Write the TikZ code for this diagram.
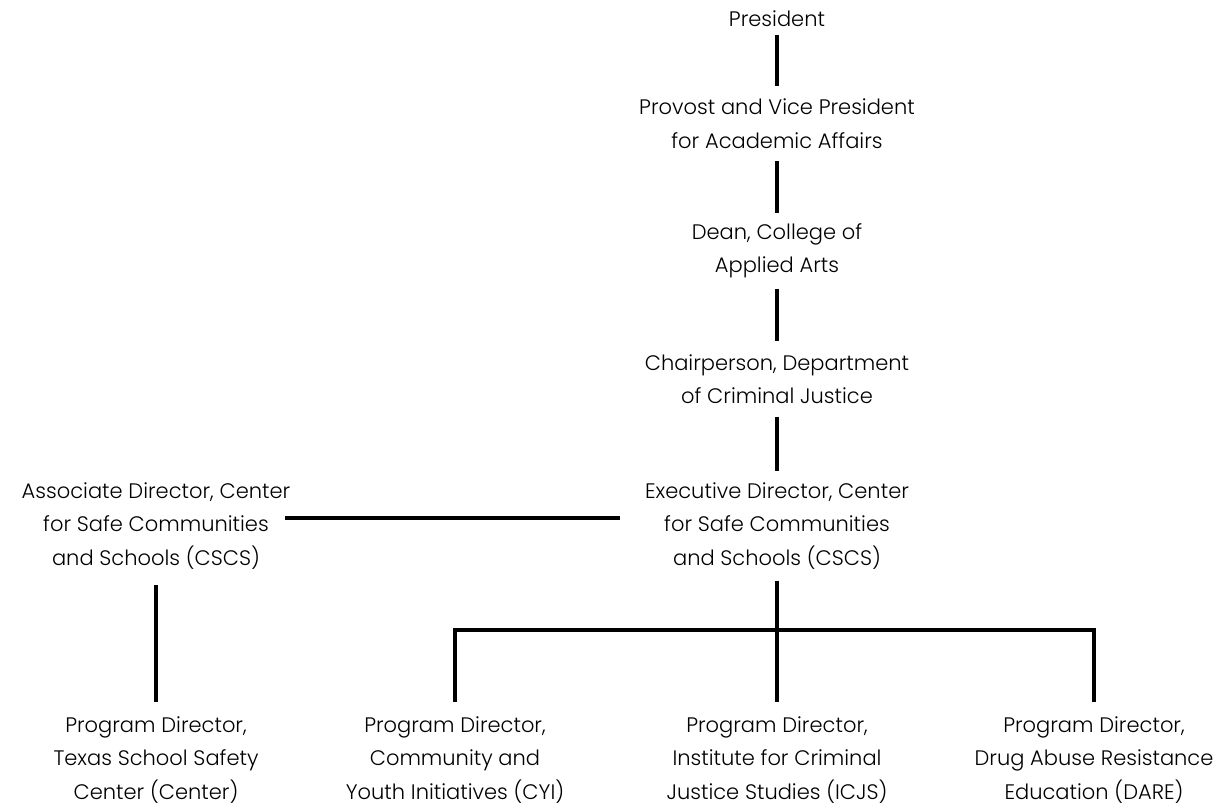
\documentclass[tikz,border=0pt]{standalone}
\usepackage{fontspec}
\setmainfont{Poppins}[UprightFont=* Light]
\begin{document}
\begin{tikzpicture}[x=1pt,y=-1pt,
  every node/.style={font=\fontsize{21}{33.5}\selectfont, align=center, inner sep=0pt},
  two/.style={minimum height=75pt},
  three/.style={minimum height=109pt},
  leaf/.style={minimum height=116pt},
  link/.style={line width=3.4pt}]
\useasboundingbox (0,0) rectangle (1216,809);

% chain of command
\node[minimum height=33pt] (pres) at (777,18.5) {President};
\node[two] (prov) at (777,123.5) {Provost and Vice President\\for Academic Affairs};
\node[two] (dean) at (777,251) {Dean, College of\\Applied Arts};
\node[two] (chair) at (777,379) {Chairperson, Department\\of Criminal Justice};
\node[three] (exec) at (777,526) {Executive Director, Center\\for Safe Communities\\and Schools (CSCS)};
\node[minimum height=118pt] (assoc) at (156,526) {Associate Director, Center\\for Safe Communities\\and Schools (CSCS)};

% program directors
\node[leaf] (tssc) at (156,760) {Program Director,\\Texas School Safety\\Center (Center)};
\node[leaf] (cyi) at (455,760) {Program Director,\\Community and\\Youth Initiatives (CYI)};
\node[leaf] (icjs) at (777,760) {Program Director,\\Institute for Criminal\\Justice Studies (ICJS)};
\node[leaf] (dare) at (1094,760) {Program Director,\\Drug Abuse Resistance\\Education (DARE)};

\coordinate (bus) at (777,630);

\draw[link] (pres.south) -- (prov.north);
\draw[link] (prov.south) -- (dean.north);
\draw[link] (dean.south) -- (chair.north);
\draw[link] (chair.south) -- (exec.north);
\draw[link] ([shift={(129,-8)}]assoc.center) -- ([shift={(-157,-8)}]exec.center);
\draw[link] (assoc.south) -- (tssc.north);
\draw[link] (exec.south) -- (icjs.north);
\draw[link] (cyi.north) |- (bus) -| (dare.north);
\end{tikzpicture}
\end{document}
